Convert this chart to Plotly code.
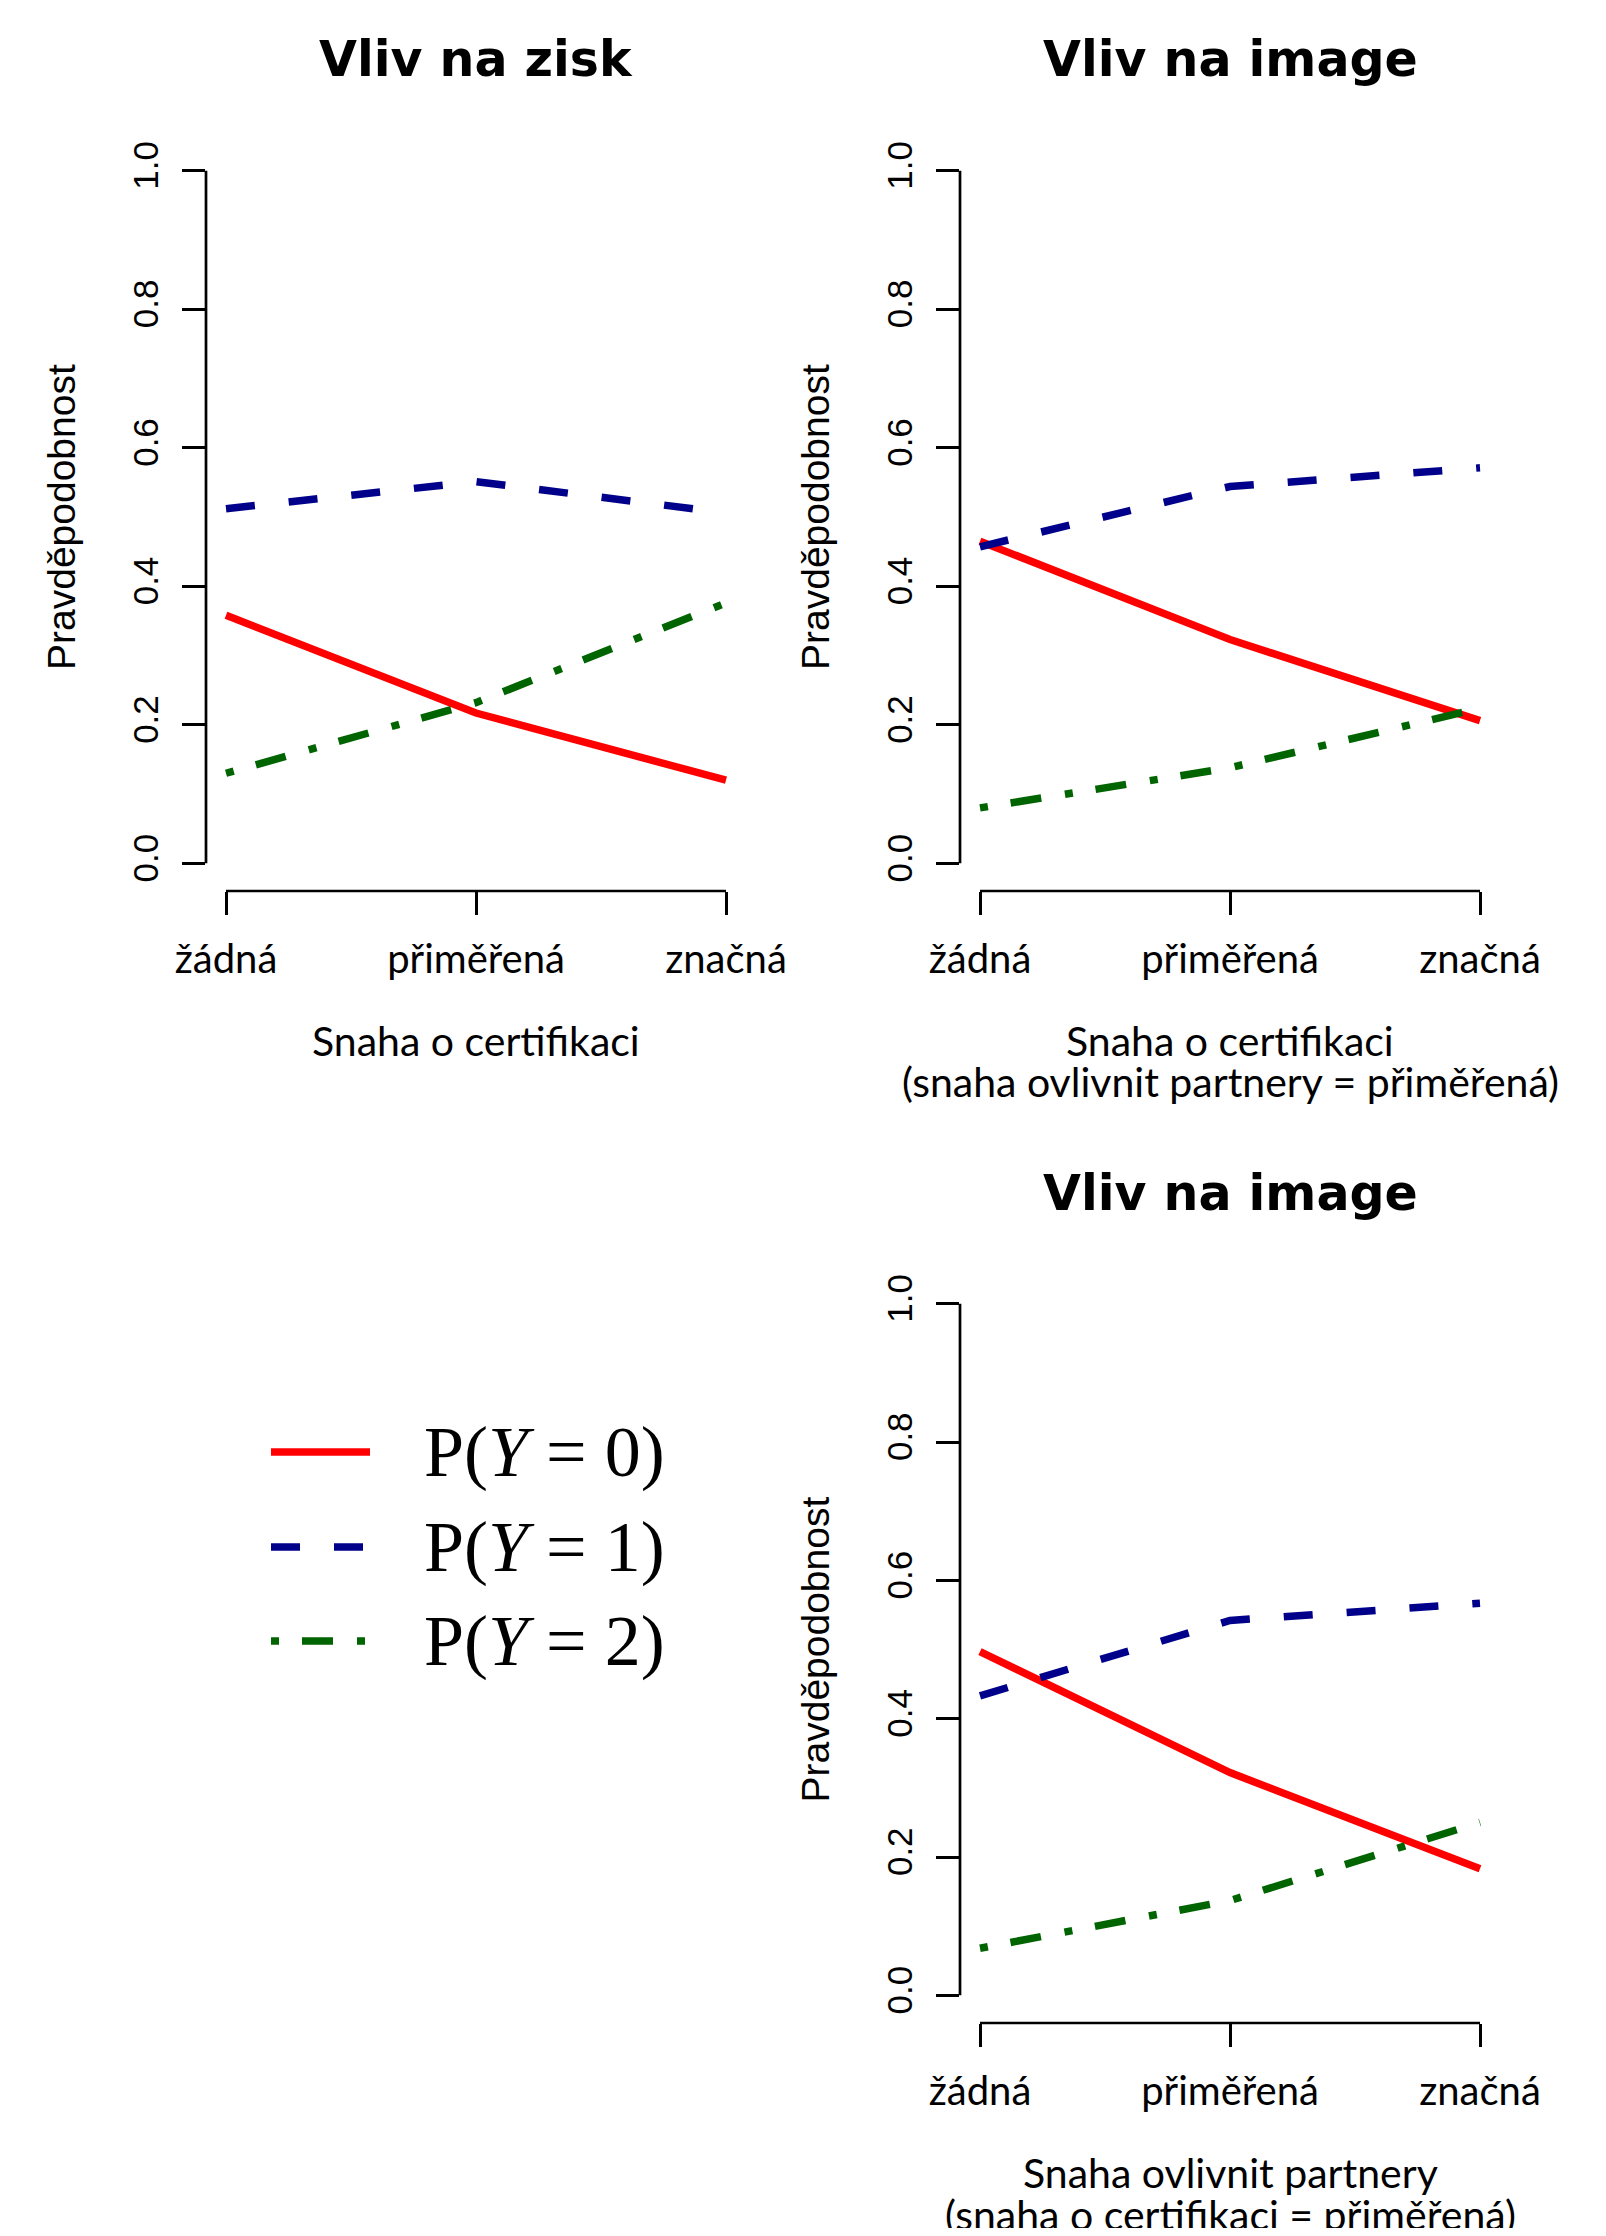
import plotly.graph_objects as go

# page is 1606x2236; the html body adds an 8px margin, so the figure is
# sized to fill the page exactly without scrollbars
PAGE_OFF = 8
W, H = 1606 - 2 * PAGE_OFF, 2236 - 2 * PAGE_OFF

# ---------------- data ----------------
levels = ["žádná", "přiměřená", "značná"]
x_pos = [1, 2, 3]
series_names = ["P(<i>Y</i> = 0)", "P(<i>Y</i> = 1)", "P(<i>Y</i> = 2)"]
series_colors = ["#FF0000", "#00008B", "#006400"]
series_dash = ["solid", "29px,34px", "8px,23px,31px,24px"]

zisk_p0 = [0.358, 0.217, 0.120]
zisk_p1 = [0.512, 0.551, 0.506]
zisk_p2 = [0.130, 0.232, 0.376]

image_cert_p0 = [0.465, 0.323, 0.206]
image_cert_p1 = [0.457, 0.544, 0.571]
image_cert_p2 = [0.080, 0.138, 0.224]

image_partner_p0 = [0.497, 0.322, 0.183]
image_partner_p1 = [0.433, 0.542, 0.567]
image_partner_p2 = [0.068, 0.137, 0.250]

y_ticks = [0.0, 0.2, 0.4, 0.6, 0.8, 1.0]
y_tick_labels = ["0.0", "0.2", "0.4", "0.6", "0.8", "1.0"]

titles = ["Vliv na zisk", "Vliv na image", "Vliv na image"]
x_titles = [
    ["Snaha o certifikaci"],
    ["Snaha o certifikaci", "(snaha ovlivnit partnery = přiměřená)"],
    ["Snaha ovlivnit partnery", "(snaha o certifikaci = přiměřená)"],
]
y_title = "Pravděpodobnost"

panels = [
    [zisk_p0, zisk_p1, zisk_p2],
    [image_cert_p0, image_cert_p1, image_cert_p2],
    [image_partner_p0, image_partner_p1, image_partner_p2],
]

# ---------------- layout geometry (page pixels -> paper) ----------------
def px_x(p):
    return (p - PAGE_OFF) / W

def px_y(p):
    return 1 - (p - PAGE_OFF) / H

# plot regions: (left, right, top, bottom) in page pixels
regions = [
    (206, 746, 143, 891),
    (960, 1500, 143, 891),
    (960, 1500, 1276, 2023),
]

LINE_W = 7.5
AX_W = 2.7
TITLE_FONT = dict(family="DejaVu Sans", size=49, color="black", weight="bold")
XTICK_FONT = dict(family="Lato, Liberation Sans", size=40, color="black")
XLAB_FONT = dict(family="Lato, Liberation Sans", size=41, color="black")
YTICK_FONT = dict(family="Liberation Sans", size=35, color="black")
YLAB_FONT = dict(family="Liberation Sans", size=39, color="black")
LEG_FONT = dict(family="Liberation Serif", size=72, color="black")

fig = go.Figure()
annotations = []
shapes = []

for i, (series, reg) in enumerate(zip(panels, regions)):
    sfx = "" if i == 0 else str(i + 1)
    xa, ya = "x" + sfx, "y" + sfx
    for vals, col, dash, name in zip(series, series_colors, series_dash, series_names):
        fig.add_trace(go.Scatter(
            x=x_pos, y=vals, mode="lines", name=name, showlegend=False,
            line=dict(color=col, width=LINE_W, dash=dash),
            xaxis=xa, yaxis=ya, cliponaxis=False,
        ))
    left, right, top, bottom = reg
    fig.layout["xaxis" + sfx] = dict(
        domain=[px_x(left), px_x(right)], anchor=ya, range=[0.92, 3.08],
        tickmode="array", tickvals=x_pos, ticktext=levels,
        ticks="outside", ticklen=23, tickwidth=AX_W, tickcolor="black",
        showline=False, showgrid=False, zeroline=False, tickfont=XTICK_FONT,
        ticklabelstandoff=10, fixedrange=True, automargin=False,
    )
    fig.layout["yaxis" + sfx] = dict(
        domain=[px_y(bottom), px_y(top)], anchor=xa, range=[-0.04, 1.04],
        tickmode="array", tickvals=y_ticks, ticktext=y_tick_labels,
        ticks="outside", ticklen=23, tickwidth=AX_W, tickcolor="black",
        tickangle=-90, showline=False, showgrid=False, zeroline=False,
        tickfont=YTICK_FONT, ticklabelstandoff=10, fixedrange=True,
        automargin=False,
    )
    # R-style axis lines spanning first to last tick
    shapes.append(dict(type="line", xref=xa, yref=ya + " domain",
                       x0=x_pos[0], x1=x_pos[-1], y0=0, y1=0,
                       line=dict(color="black", width=AX_W)))
    shapes.append(dict(type="line", xref=xa + " domain", yref=ya,
                       x0=0, x1=0, y0=y_ticks[0], y1=y_ticks[-1],
                       line=dict(color="black", width=AX_W)))
    cx = (left + right) / 2
    annotations.append(dict(text=titles[i], xref="paper", yref="paper",
                            x=px_x(cx), y=px_y(top - 83), xanchor="center",
                            yanchor="middle", showarrow=False, font=TITLE_FONT))
    for j, line in enumerate(x_titles[i]):
        annotations.append(dict(text=line, xref="paper", yref="paper",
                                x=px_x(cx), y=px_y(bottom + 149 + 42 * j),
                                xanchor="center", yanchor="middle",
                                showarrow=False, font=XLAB_FONT))
    annotations.append(dict(text=y_title, xref="paper", yref="paper",
                            x=px_x(left - 145), y=px_y((top + bottom) / 2),
                            xanchor="center", yanchor="middle", textangle=-90,
                            showarrow=False, font=YLAB_FONT))

# ---------------- legend (R style, keys built from the series styles) ----------------
leg_x0, leg_x1, leg_text_x = 271, 370, 422
leg_rows = [1452, 1547, 1641]
for name, col, dash, yy in zip(series_names, series_colors, series_dash, leg_rows):
    shapes.append(dict(type="line", xref="paper", yref="paper",
                       x0=px_x(leg_x0), x1=px_x(leg_x1), y0=px_y(yy), y1=px_y(yy),
                       line=dict(color=col, width=LINE_W, dash=dash)))
    annotations.append(dict(text=name, xref="paper", yref="paper",
                            x=px_x(leg_text_x), y=px_y(yy), xanchor="left",
                            yanchor="middle", showarrow=False, font=LEG_FONT))

fig.update_layout(
    template="none",
    width=W, height=H, margin=dict(l=0, r=0, t=0, b=0, autoexpand=False),
    paper_bgcolor="white", plot_bgcolor="white",
    showlegend=False, shapes=shapes, annotations=annotations,
)

fig.write_html("out.html", config={"displayModeBar": False})
